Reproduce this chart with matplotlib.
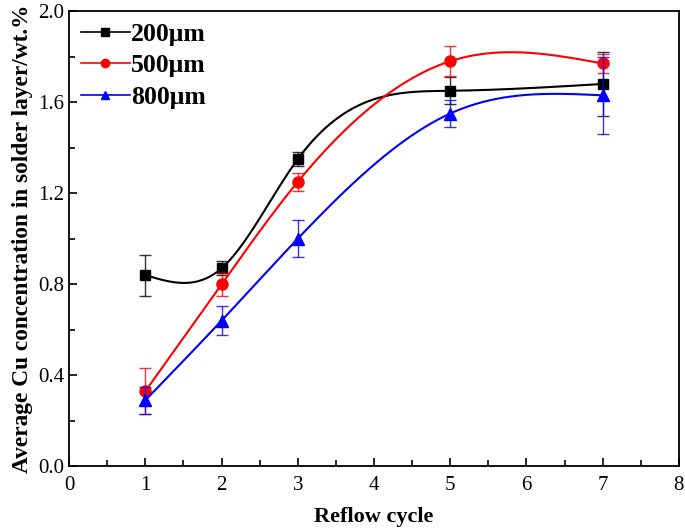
import numpy as np
import matplotlib.pyplot as plt
from matplotlib.ticker import MultipleLocator

plt.rcParams['font.family'] = ['Liberation Serif', 'DejaVu Serif']

# data
cycles = [1, 2, 3, 5, 7]
labels = ['200\u03bcm', '500\u03bcm', '800\u03bcm']
cu_200 = [0.84, 0.87, 1.35, 1.65, 1.68]
err_200 = [0.09, 0.03, 0.03, 0.06, 0.14]
cu_500 = [0.33, 0.80, 1.25, 1.78, 1.77]
err_500 = [0.10, 0.05, 0.04, 0.065, 0.04]
cu_800 = [0.29, 0.64, 1.00, 1.55, 1.63]
err_800 = [0.06, 0.065, 0.08, 0.06, 0.17]


def natural_spline(x, y, xs):
    # natural cubic spline, no scipy needed
    x = np.asarray(x, float)
    y = np.asarray(y, float)
    n = len(x)
    h = np.diff(x)
    A = np.zeros((n, n))
    b = np.zeros(n)
    A[0, 0] = 1
    A[-1, -1] = 1
    for i in range(1, n - 1):
        A[i, i - 1] = h[i - 1]
        A[i, i] = 2 * (h[i - 1] + h[i])
        A[i, i + 1] = h[i]
        b[i] = 3 * ((y[i + 1] - y[i]) / h[i] - (y[i] - y[i - 1]) / h[i - 1])
    c = np.linalg.solve(A, b)
    out = np.zeros_like(xs)
    for i in range(n - 1):
        m = (xs >= x[i]) & (xs <= x[i + 1])
        bb = (y[i + 1] - y[i]) / h[i] - h[i] * (2 * c[i] + c[i + 1]) / 3
        d = (c[i + 1] - c[i]) / (3 * h[i])
        t = xs[m] - x[i]
        out[m] = y[i] + bb * t + c[i] * t ** 2 + d * t ** 3
    return out


fig = plt.figure(figsize=(6.85, 5.31), dpi=100)
ax = fig.add_axes([0.101, 0.122, 0.89, 0.857])

series = [
    (cu_200, err_200, 'black', 's', 7),
    (cu_500, err_500, 'red', 'o', 8),
    (cu_800, err_800, 'blue', '^', 8),
]
xs = np.linspace(1, 7, 400)
for (vals, errs, col, mk, ms), lab in zip(series, labels):
    ax.plot(xs, natural_spline(cycles, vals, xs), color=col, lw=1.5)
    ax.errorbar(cycles, vals, yerr=errs, fmt='none', ecolor=col, elinewidth=1,
                capsize=4, capthick=1, alpha=0.8)
    ax.plot(cycles, vals, ls='none', marker=mk, color=col, ms=ms)
    ax.plot([], [], color=col, marker=mk, ms=6, lw=1.2, label=lab)

ax.set_xlim(0, 8)
ax.set_ylim(0, 2.0)
ax.xaxis.set_major_locator(MultipleLocator(1))
ax.xaxis.set_minor_locator(MultipleLocator(0.5))
ax.yaxis.set_major_locator(MultipleLocator(0.4))
ax.yaxis.set_minor_locator(MultipleLocator(0.2))
ax.yaxis.set_major_formatter(plt.FormatStrFormatter('%.1f'))
ax.tick_params(which='both', direction='in', top=False, right=False, labelsize=15)
ax.tick_params(axis='x', pad=7)
ax.tick_params(which='major', length=6, width=1.2)
ax.tick_params(which='minor', length=4, width=1.2)
for s in ax.spines.values():
    s.set_linewidth(1.3)

ax.set_xlabel('Reflow cycle', fontsize=16, fontweight='bold', labelpad=9)
ax.set_ylabel('Average Cu concentration in solder layer/wt.%', fontsize=16.8,
              fontweight='bold', labelpad=4)

ax.legend(loc='upper left', frameon=False, prop={'weight': 'bold', 'size': 18.5},
          handlelength=1.9, handletextpad=0.05, labelspacing=0.33,
          borderaxespad=0.05, bbox_to_anchor=(0.0, 1.0))

fig.savefig('out.png', dpi=100)
